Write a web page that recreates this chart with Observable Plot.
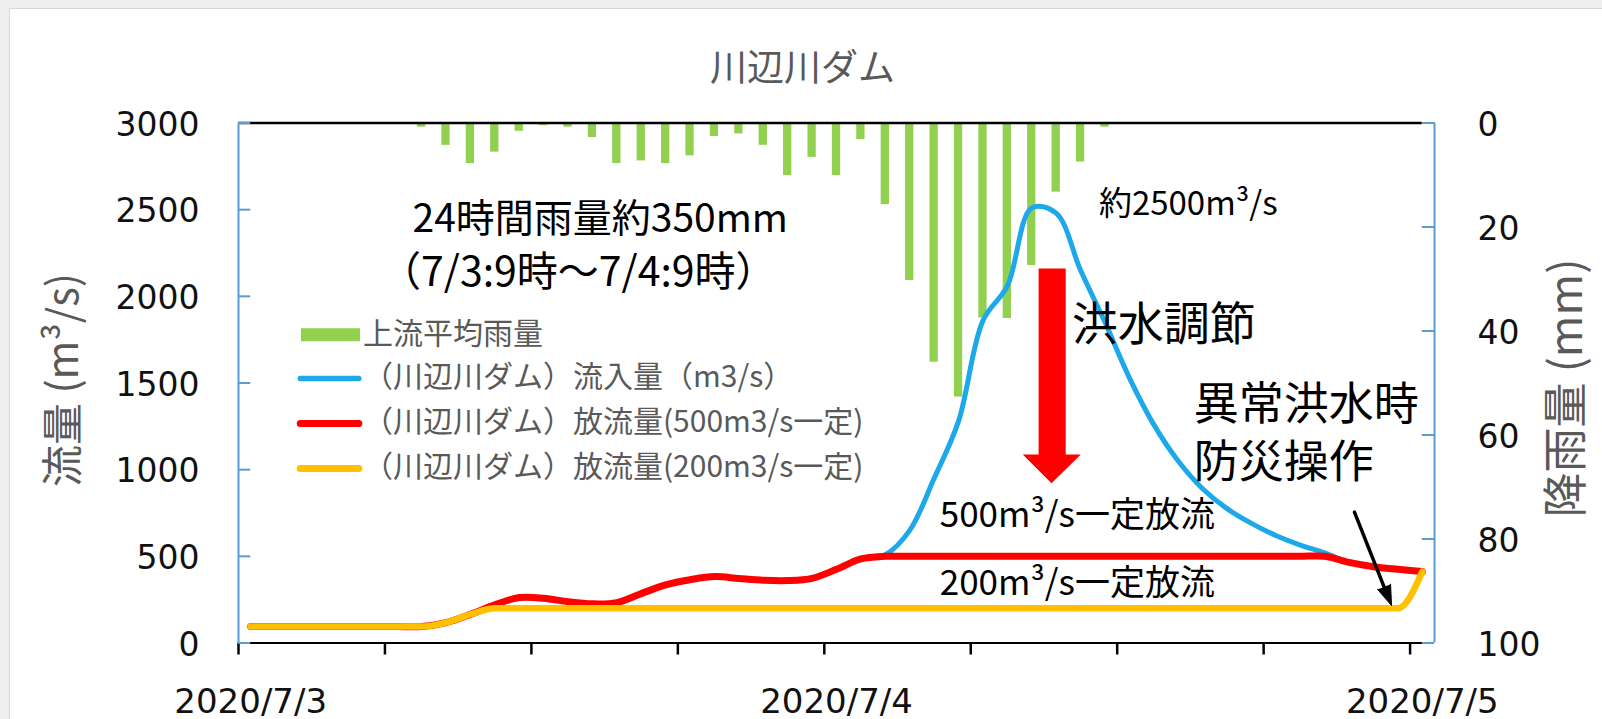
<!DOCTYPE html>
<html><head><meta charset="utf-8">
<script src="https://cdn.jsdelivr.net/npm/d3@7"></script>
<script src="https://cdn.jsdelivr.net/npm/@observablehq/plot@0.6"></script>
<style>
html,body{margin:0;padding:0;background:#efefef;width:1602px;height:719px;overflow:hidden}
#box{position:absolute;left:9px;top:8px;width:1600px;height:720px;background:#fff;border:1px solid #d8d8d8}
#chart{position:absolute;left:0;top:0}
</style></head><body><div id="box"></div><div id="chart"></div>
<script>
// ---- data (hourly categories, 2020/7/3 0時 〜 2020/7/5 0時) ----
const hourIndex = d3.range(49);
const rain = [0,0,0,0,0,0,0,0.8,4.3,7.8,5.6,1.6,0.5,0.8,2.8,7.8,7.3,7.8,6.3,2.6,2.1,4.3,10.1,6.6,10.1,3.2,15.7,30.3,46,52.7,37.5,37.6,27.4,13.3,7.5,0.8,0,0,0,0,0,0,0,0,0,0,0,0,0];
const inflow = [95,95,95,95,95,95,95,95,118,165,220,262,258,238,226,233,285,335,365,383,372,362,360,373,425,485,510,650,950,1280,1860,2060,2510,2480,2150,1850,1530,1260,1050,890,775,690,620,565,520,465,440,425,412];
const release500 = [95,95,95,95,95,95,95,95,118,165,220,262,258,238,226,233,285,335,365,383,372,362,360,373,425,485,500,500,500,500,500,500,500,500,500,500,500,500,500,500,500,500,500,500,500,465,440,425,412];
const release200 = [95,95,95,95,95,95,95,95,118,165,200,200,200,200,200,200,200,200,200,200,200,200,200,200,200,200,200,200,200,200,200,200,200,200,200,200,200,200,200,200,200,200,200,200,200,200,200,200,412];
const flowTicks = [0,500,1000,1500,2000,2500,3000];
const rainTicks = [0,20,40,60,80,100];
const dateLabels = ["2020/7/3","2020/7/4","2020/7/5"];
const dateLabelHours = [0,24,48];
const seriesNames = ["上流平均雨量","（川辺川ダム）流入量（m3/s）","（川辺川ダム）放流量(500m3/s一定)","（川辺川ダム）放流量(200m3/s一定)"];

// ---- helpers ----
const start = Date.UTC(2020,6,3,0);
const tH = h => new Date(start + h*3600e3);
const rainToFlow = mm => 3000 - mm*30;   // right axis (reversed) mapped onto left scale
const rows = hourIndex.map((k,i)=>({k, t:tH(k+0.5), rain:rain[i], inflow:inflow[i], r500:release500[i], r200:release200[i]}));

const C = {green:"#92D050", blue:"#1DA8EA", red:"#FF0000", yellow:"#FFC000", axis:"#5B9BD5"};
const JP = "'Noto Sans CJK JP','Noto Sans',sans-serif";
const NUM = "'DejaVu Sans',sans-serif";

const legend = [
  {name:seriesNames[1], color:C.blue, w:5.5, y:1526},
  {name:seriesNames[2], color:C.red, w:7, y:1266},
  {name:seriesNames[3], color:C.yellow, w:7, y:1007}
];

const chart = Plot.plot({
  width:1602, height:719,
  marginLeft:238, marginRight:168, marginTop:122.5, marginBottom:76.5,
  x:{type:"utc", domain:[tH(0), tH(49)], axis:null},
  y:{domain:[0,3000], axis:null},
  style:{background:"transparent", fontFamily:JP, overflow:"visible"},
  marks:[
    // rain bars (hanging from the top, reversed right axis)
    Plot.rect(rows.filter(d=>d.rain>0), {x1:d=>tH(d.k+0.33), x2:d=>tH(d.k+0.67), y1:d=>rainToFlow(0), y2:d=>rainToFlow(d.rain), fill:C.green}),
    Plot.ruleY([rainToFlow(0)], {x1:()=>tH(0), x2:()=>tH(48.5), stroke:"#000", strokeWidth:2.5}),
    // lines
    Plot.line(rows, {x:"t", y:"inflow", stroke:C.blue, strokeWidth:5, curve:"catmull-rom"}),
    Plot.line(rows, {x:"t", y:"r500", stroke:C.red, strokeWidth:7, curve:"catmull-rom"}),
    Plot.line(rows, {x:"t", y:"r200", stroke:C.yellow, strokeWidth:6.5, curve:"monotone-x"}),
    // bottom axis
    Plot.ruleY([0], {stroke:"#000", strokeWidth:2}),
    Plot.ruleX(d3.range(0,49,6).map(tH), {y1:0, y2:0, stroke:"#000", strokeWidth:2.5, insetBottom:-12}),
    Plot.text(dateLabels, {x:(d,i)=>tH(dateLabelHours[i]+0.5), y:()=>0, dy:59, text:d=>d, fontSize:34, fontFamily:NUM, fill:"#111"}),
    // left axis
    Plot.ruleX([tH(0)], {y1:0, y2:3000, stroke:C.axis, strokeWidth:2}),
    Plot.ruleY(flowTicks, {x1:()=>tH(0), x2:()=>tH(0.5), stroke:C.axis, strokeWidth:2}),
    Plot.text(flowTicks, {x:()=>tH(0), y:d=>d, dx:-39, dy:2, text:d=>String(d), textAnchor:"end", fontSize:33, fontFamily:NUM, fill:"#111"}),
    // right axis
    Plot.ruleX([tH(49)], {y1:0, y2:3000, stroke:C.axis, strokeWidth:2}),
    Plot.ruleY(rainTicks.map(rainToFlow), {x1:()=>tH(48.5), x2:()=>tH(49), stroke:C.axis, strokeWidth:2}),
    Plot.text(rainTicks, {x:()=>tH(49), y:d=>rainToFlow(d), dx:43, dy:2, text:d=>String(d), textAnchor:"start", fontSize:33, fontFamily:NUM, fill:"#111"}),
    // titles
    Plot.text(["川辺川ダム"], {frameAnchor:"top", lineAnchor:"middle", textAnchor:"middle", dx:-34, dy:-54, fontSize:37, fill:"#595959"}),
    Plot.text(["流量 (m³/s)"], {frameAnchor:"left", textAnchor:"middle", lineAnchor:"middle", rotate:-90, dx:-174, dy:-3, fontSize:42, fill:"#595959"}),
    Plot.text(["降雨量 (mm)"], {frameAnchor:"right", textAnchor:"middle", lineAnchor:"middle", rotate:-90, dx:133, dy:5, fontSize:45, fill:"#595959"}),
    // legend
    Plot.rect([seriesNames[0]], {x1:()=>tH(2.58), x2:()=>tH(5.0), y1:()=>1813, y2:()=>1738, fill:C.green}),
    Plot.text([seriesNames[0]], {x:()=>tH(5.1), y:()=>1780, text:d=>d, textAnchor:"start", fontSize:30, fill:"#595959"}),
    Plot.ruleY(legend, {y:"y", x1:()=>tH(2.55), x2:()=>tH(4.95), stroke:"color", strokeWidth:"w", strokeLinecap:"round"}),
    Plot.text(legend, {x:()=>tH(5.1), y:d=>d.y+8, text:"name", textAnchor:"start", fontSize:30, fill:"#595959"}),
    // annotations
    Plot.text(["24時間雨量約350mm"], {x:()=>tH(7.13), y:()=>2445, textAnchor:"start", fontSize:39, fill:"#000"}),
    Plot.text(["（7/3:9時～7/4:9時）"], {x:()=>tH(5.8), y:()=>2138, textAnchor:"start", fontSize:41, fill:"#000"}),
    Plot.text(["約2500m³/s"], {x:()=>tH(35.25), y:()=>2530, textAnchor:"start", fontSize:33, fill:"#000"}),
    Plot.text(["洪水調節"], {x:()=>tH(34.14), y:()=>1832, textAnchor:"start", fontSize:46, fill:"#000"}),
    Plot.text(["500m³/s一定放流","200m³/s一定放流"], {x:()=>tH(28.73), y:(d,i)=>[736,343][i], textAnchor:"start", fontSize:35, fill:"#000"}),
    Plot.text(["異常洪水時","防災操作"], {x:()=>tH(39.14), y:(d,i)=>[1372,1034][i], textAnchor:"start", fontSize:45, fill:"#000"}),
    // red arrow (flood control)
    Plot.line([[32.78,2161],[33.89,2161],[33.89,1087],[34.51,1087],[33.31,922],[32.13,1087],[32.78,1087]],
      {x:d=>tH(d[0]), y:d=>d[1], fill:C.red, stroke:"none"}),
    // black arrow (shaft + filled head)
    Plot.line([[45.72,755],[46.95,318]], {x:d=>tH(d[0]), y:d=>d[1], stroke:"#000", strokeWidth:3.5}),
    Plot.line([[47.20,339],[47.24,216],[46.67,309]], {x:d=>tH(d[0]), y:d=>d[1], fill:"#000", stroke:"#000", strokeWidth:1, strokeLinejoin:"miter"})
  ]
});
document.getElementById("chart").appendChild(chart);
</script></body></html>
